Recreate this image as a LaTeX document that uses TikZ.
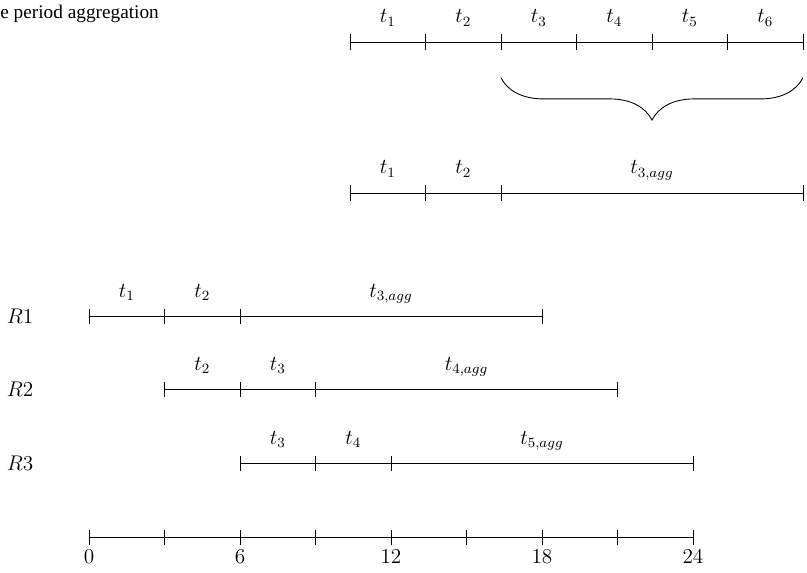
\documentclass[tikz,border=0pt]{standalone}
\usepackage{fontspec}
\newfontfamily\capserif{Liberation Serif}
\usetikzlibrary{decorations.pathreplacing}

\begin{document}
\begin{tikzpicture}[x=0.5cm,y=0.5cm,
  tline/.style={line width=0.5pt,black},
  ttick/.style={line width=0.5pt,black},
  tlabel/.style={anchor=base,yshift=0.38cm,inner sep=0pt,font=\fontsize{12}{14}\selectfont},
  rowlabel/.style={inner sep=0pt,font=\fontsize{12}{14}\selectfont}
]
  \useasboundingbox (-3.536,-1.39) rectangle (28.53,21.37);
  % Title (cut at the left edge)
  \node[anchor=west,inner sep=0pt] (title) at (-3.536,20.8) {\capserif\fontsize{10.9}{13}\selectfont e period aggregation};
  % Top: six periods
  \foreach \i in {0,...,6}
    \coordinate (p\i) at ({10.37+3*\i},19.7);
  \draw[tline] (p0) -- node[tlabel] (pl1) {$t_1$} (p1)
    -- node[tlabel] (pl2) {$t_2$} (p2)
    -- node[tlabel] (pl3) {$t_3$} (p3)
    -- node[tlabel] (pl4) {$t_4$} (p4)
    -- node[tlabel] (pl5) {$t_5$} (p5)
    -- node[tlabel] (pl6) {$t_6$} (p6);
  \foreach \i in {0,...,6}
    \draw[ttick] ([yshift=-0.15cm]p\i) -- ([yshift=0.15cm]p\i);
  % Brace over the aggregated periods
  \coordinate (brl) at (16.37,18.28);
  \coordinate (brr) at (28.37,18.28);
  \draw[line width=0.5pt,decorate,decoration={brace,amplitude=0.84cm,mirror}] (brl) -- (brr);
  % Aggregated horizon
  \coordinate (a0) at (10.37,13.7);
  \coordinate (a1) at (13.37,13.7);
  \coordinate (a2) at (16.37,13.7);
  \coordinate (a3) at (28.37,13.7);
  \draw[tline] (a0) -- node[tlabel] (al1) {$t_1$} (a1)
    -- node[tlabel] (al2) {$t_2$} (a2)
    -- node[tlabel] (al3) {$t_{3,agg}$} (a3);
  \foreach \c in {a0,a1,a2,a3}
    \draw[ttick] ([yshift=-0.15cm]\c) -- ([yshift=0.15cm]\c);
  % Rolling horizons R1-R3
  \foreach \r/\s/\y/\k in {1/0/8.8/1,2/3/5.9/2,3/6/2.95/3} {
    \coordinate (r\r a) at (\s,\y);
    \coordinate (r\r b) at ({\s+3},\y);
    \coordinate (r\r c) at ({\s+6},\y);
    \coordinate (r\r d) at ({\s+18},\y);
    \node[rowlabel] (rl\r) at (-2.74,\y) {$R\r$};
    \pgfmathtruncatemacro{\ka}{\k+1}
    \pgfmathtruncatemacro{\kb}{\k+2}
    \draw[tline] (r\r a) -- node[tlabel] (r\r l1) {$t_{\k}$} (r\r b)
      -- node[tlabel] (r\r l2) {$t_{\ka}$} (r\r c)
      -- node[tlabel] (r\r l3) {$t_{\kb,agg}$} (r\r d);
    \foreach \c in {a,b,c,d}
      \draw[ttick] ([yshift=-0.15cm]r\r\c) -- ([yshift=0.15cm]r\r\c);
  }
  % Time axis
  \coordinate (x0) at (0,0);
  \coordinate (x24) at (24,0);
  \draw[tline] (x0) -- (x24);
  \foreach \t in {0,3,...,24}
    \draw[ttick] (\t,-0.3) -- (\t,0.3);
  \foreach \t in {0,6,...,24}
    \node[below,inner sep=2.5pt,font=\fontsize{12}{14}\selectfont] (xl\t) at (\t,-0.3) {$\t$};
\end{tikzpicture}
\end{document}
